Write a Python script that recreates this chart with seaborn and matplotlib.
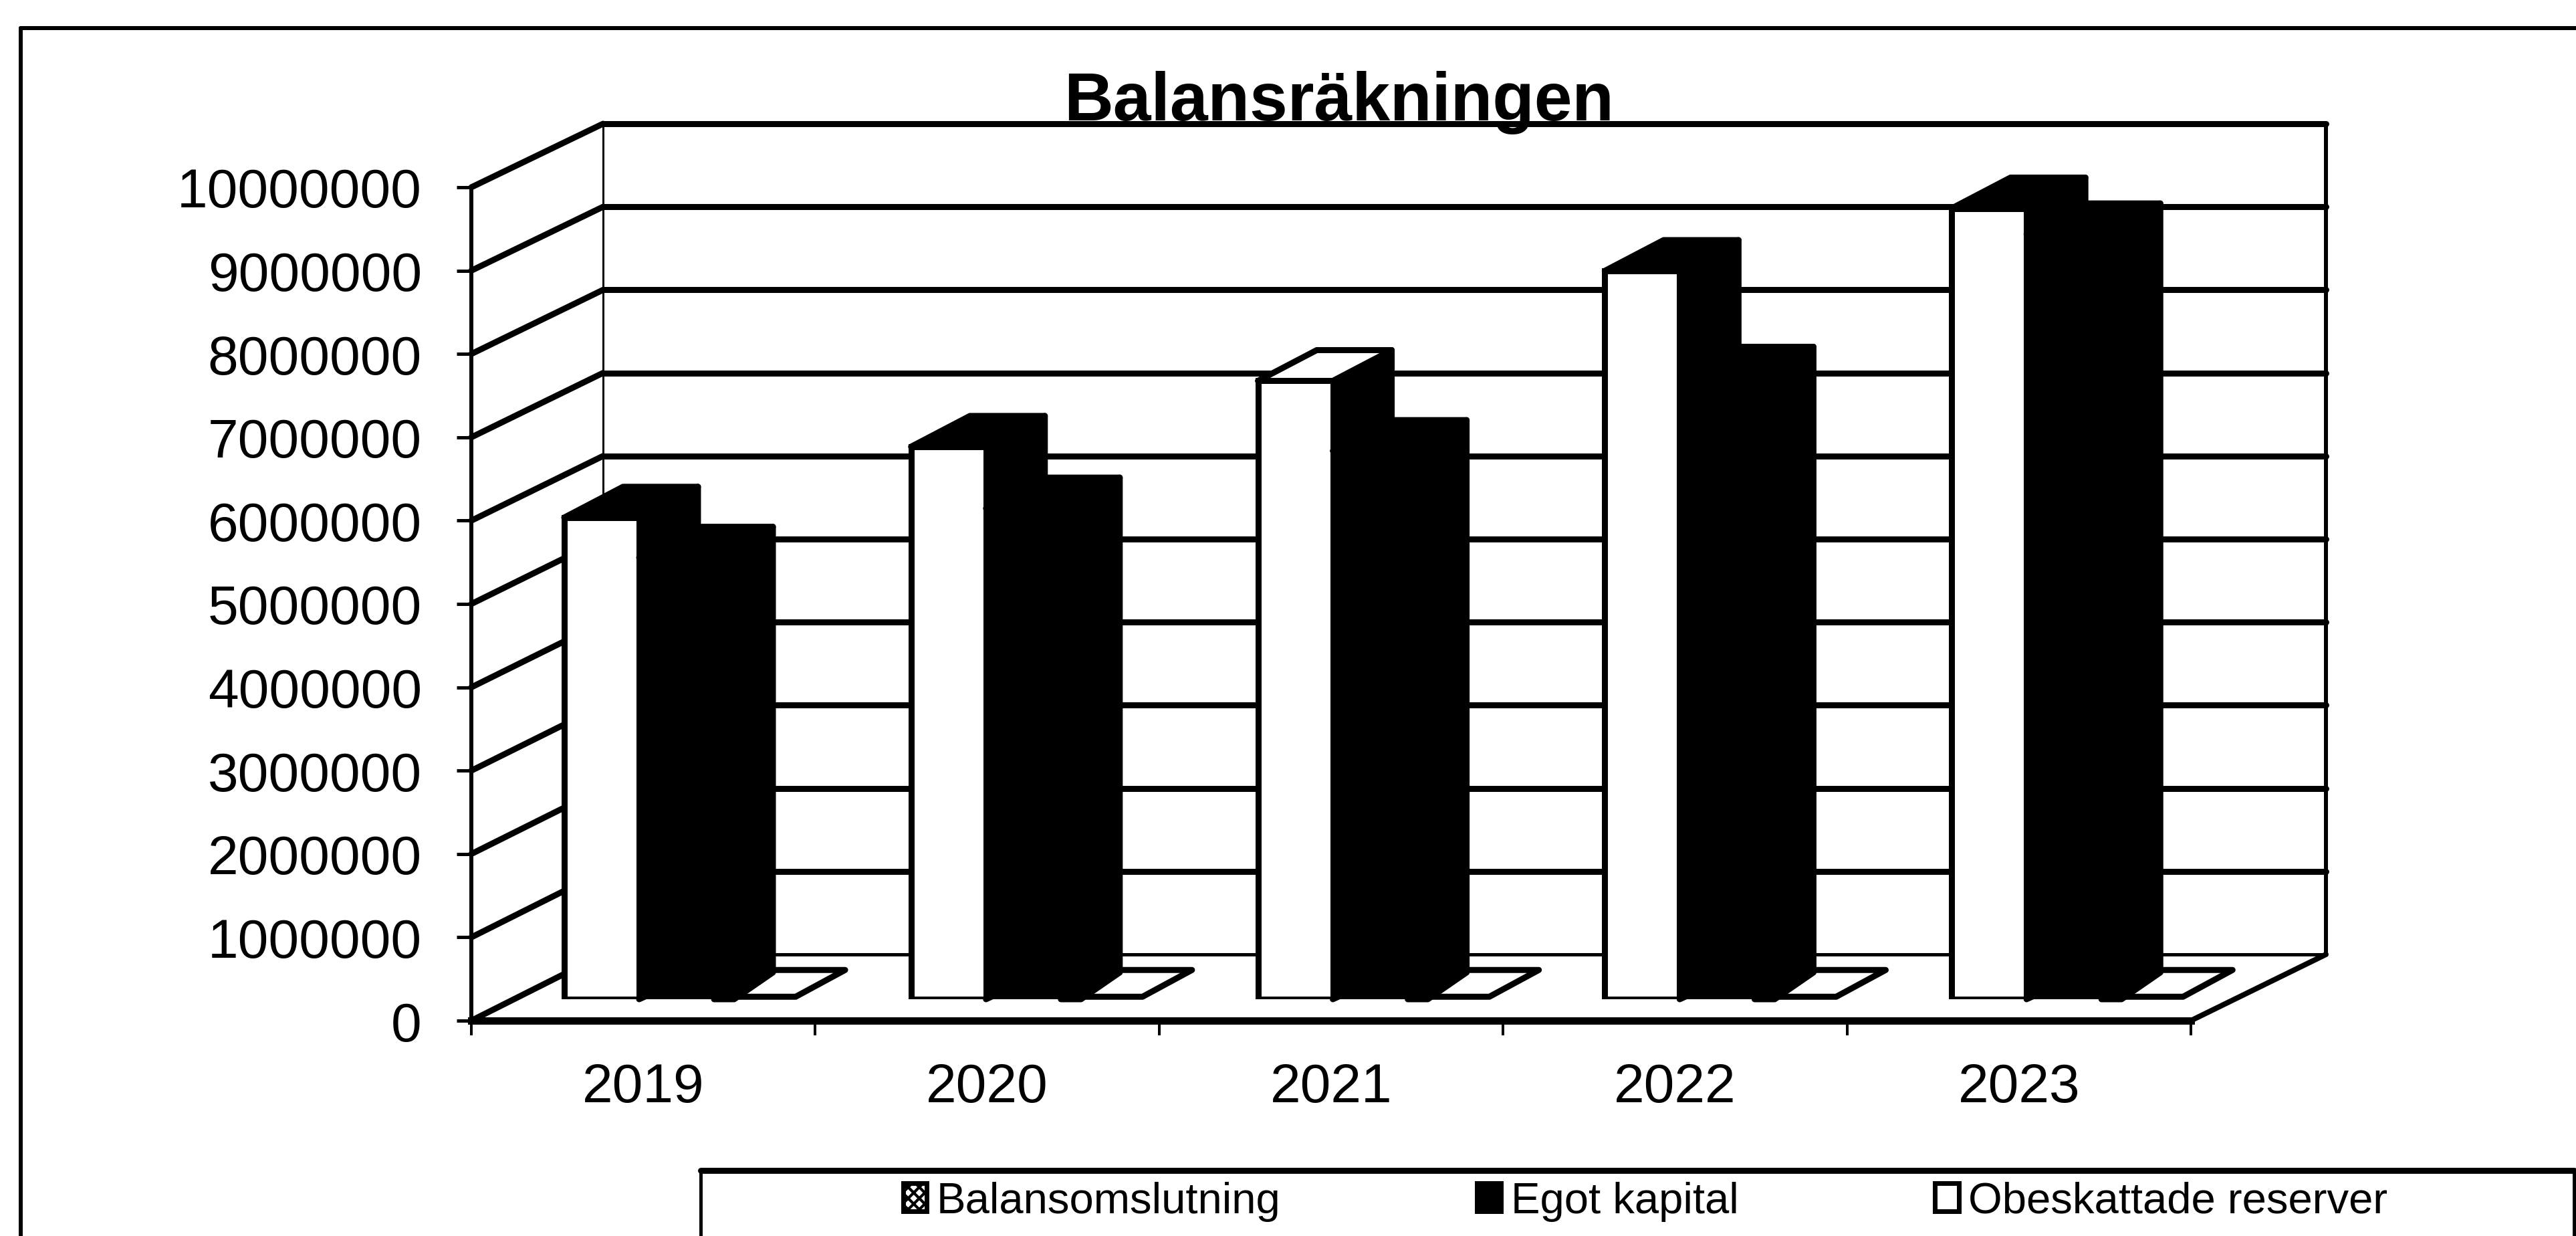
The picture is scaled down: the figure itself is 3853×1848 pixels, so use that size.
import numpy as np
import pandas as pd
import matplotlib
matplotlib.use("Agg")
import matplotlib.pyplot as plt
from matplotlib.lines import Line2D
from matplotlib.patches import Polygon, Rectangle
from matplotlib.transforms import IdentityTransform
import seaborn as sns

# ---- data ----
years = ["2019", "2020", "2021", "2022", "2023"]
balansomslutning = [5780000, 6630000, 7420000, 8740000, 9490000]
egot_kapital = [5300000, 5890000, 6580000, 7460000, 9180000]
obeskattade_reserver = [30000, 30000, 30000, 30000, 30000]
series_names = ["Balansomslutning", "Egot kapital", "Obeskattade reserver"]
y_ticks = [0, 1000000, 2000000, 3000000, 4000000, 5000000,
           6000000, 7000000, 8000000, 9000000, 10000000]
title_text = "Balansräkningen"

# ---- layout (pixels of the 3853x1849 canvas, y from the top) ----
W, H = 3853, 1849
DPI = 100
FRONT = (705, 3277, 1527, 281)
BACK = (902, 3479, 1428, 186)
BARS = (752.6, 3346.6, 1495, 249)
DEPTH_X, DEPTH_Y = 88, 46


def px(points):
    return points * 72 / DPI


def place(fig, box, zorder):
    x0, x1, y0, y1 = box
    ax = fig.add_axes([x0 / W, 1 - y0 / H, (x1 - x0) / W, (y0 - y1) / H])
    ax.set_zorder(zorder)
    ax.patch.set_alpha(0)
    ax.set_xlim(-0.5, len(years) - 0.5)
    ax.set_ylim(0, y_ticks[-1])
    return ax


sns.set_theme(style="white")
plt.rcParams["font.family"] = ["Liberation Sans", "DejaVu Sans"]
plt.rcParams["hatch.linewidth"] = 3

df = pd.DataFrame({
    "År": years * 3,
    "Post": np.repeat(series_names, len(years)),
    "Värde": balansomslutning + egot_kapital + obeskattade_reserver,
})

fig = plt.figure(figsize=(W / DPI, H / DPI), dpi=DPI, facecolor="white")
ax_back = place(fig, BACK, 0)
ax_front = place(fig, FRONT, 1)
ax_bars = place(fig, BARS, 2)

# ---- back wall ----
ax_back.set_yticks(y_ticks)
ax_back.set_xticks([])
ax_back.tick_params(left=False, labelleft=False)
ax_back.grid(axis="y", color="black", lw=px(9), clip_on=False)
for line in ax_back.get_ygridlines():
    line.set_clip_on(False)
ax_back.get_ygridlines()[0].set_linewidth(px(5))
ax_back.set_axisbelow(True)
for name, spine in ax_back.spines.items():
    spine.set_color("black")
    spine.set_linewidth(px(6))
ax_back.spines["bottom"].set_visible(False)
ax_back.spines["left"].set_linestyle((0, (2, 1)))
ax_back.spines["left"].set_linewidth(px(3))
ax_back.spines["top"].set_visible(False)

# ---- side wall and floor edges, tied to the two scaled planes ----
for v in y_ticks:
    a = ax_front.transData.transform((-0.5, v))
    b = ax_back.transData.transform((-0.5, v))
    ax_back.add_line(Line2D([a[0], b[0]], [a[1], b[1]], color="black",
                            lw=px(9), transform=IdentityTransform(), clip_on=False))
a = ax_front.transData.transform((len(years) - 0.5, 0))
b = ax_back.transData.transform((len(years) - 0.5, 0))
ax_back.add_line(Line2D([a[0], b[0]], [a[1], b[1]], color="black", lw=px(8),
                        transform=IdentityTransform(), clip_on=False))

# ---- front axes: ticks and labels ----
ax_front.set_yticks(y_ticks)
ax_front.set_yticklabels([str(v) for v in y_ticks], fontsize=59, color="black")
ax_front.set_xticks(np.arange(len(years) + 1) - 0.5)
ax_front.set_xticklabels([])
ax_front.set_xticks(np.arange(len(years)), labels=years, minor=True, fontsize=59, color="black")
ax_front.tick_params(axis="y", which="major", length=px(22), width=px(5), color="black",
                     left=True, pad=px(52))
ax_front.tick_params(axis="x", which="major", length=px(22), width=px(4), color="black",
                     bottom=True)
ax_front.tick_params(axis="x", which="minor", length=0, pad=px(62))
sns.despine(ax=ax_front, top=True, right=True)
ax_front.spines["left"].set_color("black")
ax_front.spines["left"].set_linewidth(px(6))
ax_front.spines["bottom"].set_color("black")
ax_front.spines["bottom"].set_linewidth(px(11))

# ---- bars ----
sns.barplot(data=df, x="År", y="Värde", hue="Post", hue_order=series_names,
            order=years, palette=["white", "black", "white"], width=0.648, gap=0,
            edgecolor="black", linewidth=px(9), saturation=1, ax=ax_bars, legend=True)
ax_bars.set_xlim(-0.5, len(years) - 0.5)
ax_bars.set_ylim(0, y_ticks[-1])

handles, labels = ax_bars.get_legend_handles_labels()
ax_bars.get_legend().remove()
ax_bars.set_axis_off()

# 2021 is the one year whose first bar keeps a white top face in the scan
white_top_first_series = {"2021"}

bars = []
for s, container in enumerate(ax_bars.containers):
    for i, rect in enumerate(container):
        bars.append((rect.get_x(), s, i, rect))
bars.sort(key=lambda t: t[0])

for order, (_, s, i, rect) in enumerate(bars):
    z = 5 + order * 4
    (x0, y0) = ax_bars.transData.transform((rect.get_x(), rect.get_y()))
    (x1, y1) = ax_bars.transData.transform((rect.get_x() + rect.get_width(),
                                            rect.get_y() + rect.get_height()))
    if s == 2:
        # the low third bar: a flat white slab, its left end hidden by the black bar
        rect.set_zorder(z)
        top = [(x0, y1), (x1 + 10, y1), (x1 + 84, y1 + 40), (x0 + 66, y1 + 40)]
        ax_bars.add_patch(Polygon(top, closed=True, fc="white", ec="black", lw=px(9),
                                  joinstyle="round", transform=IdentityTransform(),
                                  clip_on=False, zorder=z + 1))
        continue
    rect.set_zorder(z + 2)
    side = [(x1, y1), (x1 + DEPTH_X, y1 + DEPTH_Y), (x1 + DEPTH_X, y0 + 40),
            (x1 + (30 if s == 1 else 0), y0), (x1, y0)]
    top = [(x0, y1), (x1, y1), (x1 + DEPTH_X, y1 + DEPTH_Y), (x0 + DEPTH_X, y1 + DEPTH_Y)]
    white_top = s == 0 and years[i] in white_top_first_series
    # the second bar's side sits above the third bar's slab that follows it
    side_z = z + 6 if s == 1 else z
    ax_bars.add_patch(Polygon(side, closed=True, fc="black", ec="black", lw=px(9),
                              joinstyle="round", transform=IdentityTransform(),
                              clip_on=False, zorder=side_z))
    ax_bars.add_patch(Polygon(top, closed=True, fc="white" if white_top else "black",
                              ec="black", lw=px(9), joinstyle="round",
                              transform=IdentityTransform(), clip_on=False, zorder=z + 1))

# ---- title ----
fig.text(2003 / W, 1 - 180 / H, title_text, fontsize=73.5, fontweight="bold",
         ha="center", va="baseline", color="black")

# ---- outer frame ----
fig.add_artist(Line2D([31 / W, 31 / W], [0, 1 - 43 / H], color="black", lw=px(6)))
fig.add_artist(Line2D([31 / W, 1], [1 - 43 / H, 1 - 43 / H], color="black", lw=px(6)))

# ---- legend box ----
fig.add_artist(Rectangle((1048 / W, -0.02), (3850 - 1048) / W, 1 - 1751 / H + 0.02,
                         transform=fig.transFigure, fc="white", ec="none", zorder=3))
fig.add_artist(Line2D([1048 / W, 3850 / W], [1 - 1751 / H, 1 - 1751 / H], color="black", lw=px(9), zorder=4))
fig.add_artist(Line2D([1048 / W, 1048 / W], [0, 1 - 1751 / H], color="black", lw=px(5), zorder=4))
fig.add_artist(Line2D([3850 / W, 3850 / W], [0, 1 - 1751 / H], color="black", lw=px(5), zorder=4))
leg = fig.legend(handles, labels, loc="center", bbox_to_anchor=(2461 / W, 1 - 1797 / H),
                 ncol=3, frameon=False, fontsize=47, columnspacing=4.5,
                 handlelength=0.55, handleheight=0.6, handletextpad=0.22,
                 borderpad=0, labelcolor="black")
leg.set_zorder(5)
leg_patches = leg.get_patches()
for p in leg_patches:
    p.set_edgecolor("black")
    p.set_linewidth(px(7))
leg_patches[0].set_hatch("xx")

fig.savefig("out.png", dpi=DPI, facecolor="white")
